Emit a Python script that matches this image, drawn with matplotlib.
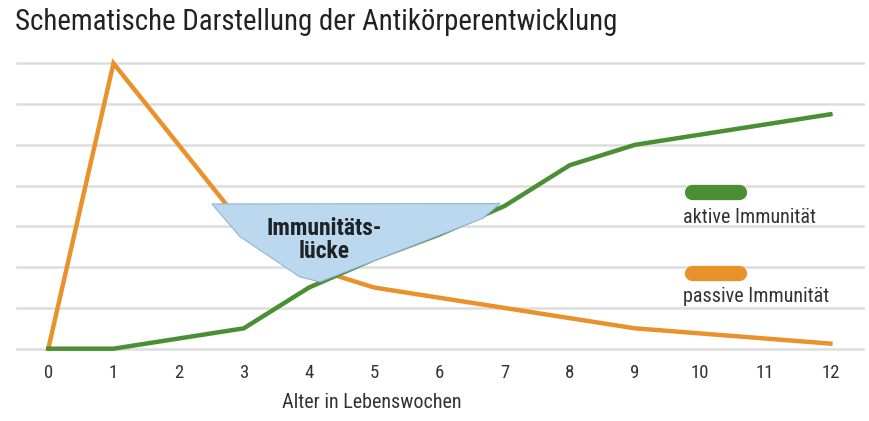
import matplotlib
matplotlib.use("Agg")
import matplotlib.pyplot as plt
from matplotlib.patches import Polygon

#########################################################################

weeks = list(range(13))
tick_labels = [str(w) for w in weeks]
aktiv = [0, 0, 0.25, 0.5, 1.5, 2.2, 2.8, 3.5, 4.5, 5.0, 5.25, 5.5, 5.75]
passiv = [0, 7, 5, 3, 2, 1.5, 1.25, 1.0, 0.75, 0.5, 0.375, 0.25, 0.125]
# Umriss der "Immunitätslücke" (Wochen, Wert)
luecke_x = [2.51, 6.93, 6.67, 4.17, 3.86, 2.94]
luecke_y = [3.55, 3.56, 3.20, 1.64, 1.76, 2.75]

green = "#4a8f34"
orange = "#e9922c"
blue = "#bcd8ee"
font = ["Roboto Condensed", "Lato", "DejaVu Sans"]

#########################################################################

plt.rcParams['font.family'] = font
fig = plt.figure(figsize=(8.7, 4.21), dpi=100)
ax = fig.add_axes([17 / 870, 72.3 / 421, 846 / 870, 285.4 / 421])

for v in range(8):
    ax.axhline(v, color="#dddddd", lw=1.8, zorder=0, clip_on=False)

ax.plot(weeks, passiv, color=orange, lw=3.2, solid_joinstyle="miter", clip_on=False, zorder=2)
ax.plot(weeks, aktiv, color=green, lw=3.2, solid_joinstyle="miter", clip_on=False, zorder=2)

poly = Polygon(list(zip(luecke_x, luecke_y)), closed=True, facecolor=blue,
               edgecolor="#8fb5d8", lw=0.8, zorder=3)
ax.add_patch(poly)
ax.text(4.23, 2.95, "Immunitäts-", ha="center", va="center", fontsize=17,
        fontweight="bold", color="#1e2328", zorder=4)
ax.text(4.23, 2.38, "lücke", ha="center", va="center", fontsize=17,
        fontweight="bold", color="#1e2328", zorder=4)

# Legende
ax.plot([0.798, 0.853], [0.549, 0.549], transform=ax.transAxes, color=green,
        lw=11, solid_capstyle="round", clip_on=False)
ax.text(0.787, 0.44, "aktive Immunität", transform=ax.transAxes, fontsize=14.5,
        color="#333333", va="baseline")
ax.plot([0.798, 0.853], [0.265, 0.265], transform=ax.transAxes, color=orange,
        lw=11, solid_capstyle="round", clip_on=False)
ax.text(0.787, 0.165, "passive Immunität", transform=ax.transAxes, fontsize=14.5,
        color="#333333", va="baseline")

ax.set_xlim(-0.48, 12.5)
ax.set_ylim(0, 7)
ax.set_xticks(weeks)
ax.set_xticklabels(tick_labels)
ax.set_yticks([])
ax.tick_params(axis="x", length=0, pad=11, labelsize=13.5, labelcolor="#333333")
for s in ax.spines.values():
    s.set_visible(False)

fig.text(372 / 870, 1 - 403 / 421, "Alter in Lebenswochen", ha="center", va="center",
         fontsize=14.5, color="#333333")
fig.text(15 / 870, 1 - 22 / 421, "Schematische Darstellung der Antikörperentwicklung",
         ha="left", va="center", fontsize=20.8, color="#222222")

fig.savefig("out.png", dpi=100)
